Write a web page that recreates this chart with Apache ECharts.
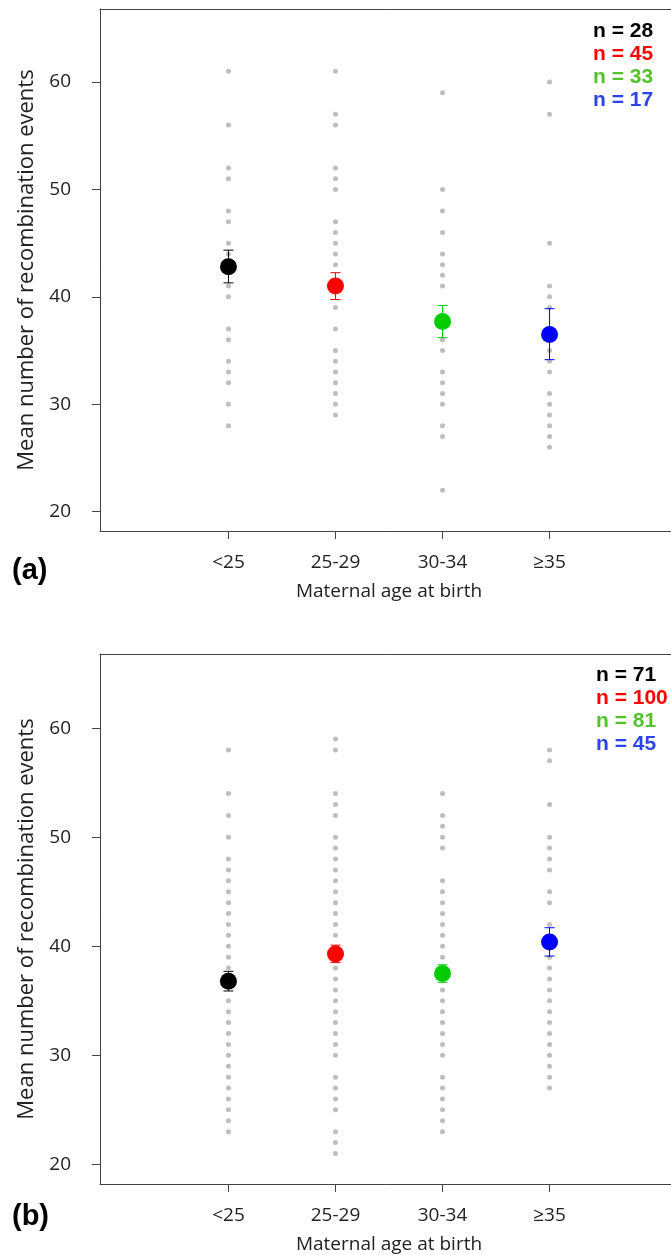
<!DOCTYPE html>
<html>
<head>
<meta charset="utf-8">
<script src="https://cdn.jsdelivr.net/npm/echarts@6/dist/echarts.min.js"></script>
<style>
  html, body { margin: 0; padding: 0; background: #fff; }
  #chart { width: 671px; height: 1255px; }
</style>
</head>
<body>
<div id="chart"></div>
<script>
// Maternal age groups on the x axis (positions 1..4)
const ageGroups = ['<25', '25-29', '30-34', '≥35'];
const groupColors = ['#000000', '#FF0000', '#00CC00', '#0000FF'];
const countColors = ['#000000', '#FF0000', '#55C22D', '#2B45E8'];
const yTicks = [20, 30, 40, 50, 60];

// Panel (a): individual recombination counts, group means and error bars
const countsA = [28, 45, 33, 17];
const individualsA = [
  [61, 56, 52, 51, 48, 47, 45, 44, 41, 40, 37, 36, 34, 33, 32, 30, 28],
  [61, 57, 56, 52, 51, 50, 47, 46, 45, 44, 43, 39, 37, 35, 34, 33, 32, 31, 30, 29],
  [59, 50, 48, 46, 44, 43, 42, 41, 36, 35, 33, 32, 31, 30, 28, 27, 22],
  [60, 57, 45, 41, 40, 39, 35, 34, 33, 31, 30, 29, 28, 27, 26]
];
const meansA = [42.8, 41.0, 37.7, 36.5];
const lowerA = [41.3, 39.75, 36.2, 34.15];
const upperA = [44.35, 42.25, 39.2, 38.9];

// Panel (b)
const countsB = [71, 100, 81, 45];
const individualsB = [
  [58, 54, 52, 50, 48, 47, 46, 45, 44, 43, 42, 41, 40, 39, 38, 35, 34, 33, 32, 31, 30, 29, 28, 27, 26, 25, 24, 23],
  [59, 58, 54, 53, 52, 50, 49, 48, 47, 46, 45, 44, 43, 42, 41, 38, 37, 36, 35, 34, 33, 32, 31, 30, 28, 27, 26, 25, 23, 22, 21],
  [54, 52, 51, 50, 49, 46, 45, 44, 43, 42, 41, 40, 39, 36, 35, 34, 33, 32, 31, 30, 28, 27, 26, 25, 24, 23],
  [58, 57, 53, 50, 49, 48, 47, 45, 44, 42, 39, 38, 37, 36, 35, 34, 33, 32, 31, 30, 29, 28, 27]
];
const meansB = [36.8, 39.3, 37.5, 40.4];
const lowerB = [35.9, 38.5, 36.7, 39.1];
const upperB = [37.7, 40.1, 38.3, 41.7];

const FONT = 'Open Sans';
const AXIS_COLOR = '#444';
const TEXT_COLOR = '#222';
const X_MIN = -0.2, X_MAX = 5.2, Y_MIN = 18.2, Y_MAX = 66.8;

function makeXAxis(gridIndex) {
  return {
    gridIndex: gridIndex,
    type: 'value',
    position: 'bottom',
    min: X_MIN,
    max: X_MAX,
    splitLine: { show: false },
    axisLine: { show: true, onZero: false, lineStyle: { color: AXIS_COLOR, width: 1 } },
    axisTick: { show: true, length: 8, customValues: [1, 2, 3, 4], lineStyle: { color: AXIS_COLOR } },
    axisLabel: {
      customValues: [1, 2, 3, 4],
      formatter: v => ageGroups[Math.round(v) - 1],
      margin: 22, fontSize: 19, color: TEXT_COLOR, fontFamily: FONT
    },
    name: 'Maternal age at birth',
    nameLocation: 'middle',
    nameGap: 51,
    nameTextStyle: { fontSize: 19, color: TEXT_COLOR, fontFamily: FONT }
  };
}

// Top edge of the plot frame
function makeTopAxis(gridIndex) {
  return {
    gridIndex: gridIndex,
    type: 'value',
    position: 'top',
    min: X_MIN,
    max: X_MAX,
    splitLine: { show: false },
    axisLine: { show: true, onZero: false, lineStyle: { color: AXIS_COLOR, width: 1 } },
    axisTick: { show: false },
    axisLabel: { show: false }
  };
}

function makeYAxis(gridIndex) {
  return {
    gridIndex: gridIndex,
    type: 'value',
    position: 'left',
    min: Y_MIN,
    max: Y_MAX,
    splitLine: { show: false },
    axisLine: { show: true, onZero: false, lineStyle: { color: AXIS_COLOR, width: 1 } },
    axisTick: { show: true, length: 8, customValues: yTicks, lineStyle: { color: AXIS_COLOR } },
    axisLabel: {
      customValues: yTicks,
      margin: 29, fontSize: 19, color: TEXT_COLOR, fontFamily: FONT
    },
    name: 'Mean number of recombination events',
    nameLocation: 'middle',
    nameGap: 62,
    nameTextStyle: { fontSize: 22, color: TEXT_COLOR, fontFamily: FONT }
  };
}

function errorBarItem(params, api) {
  const x = api.value(0);
  const lo = api.coord([x, api.value(1)]);
  const hi = api.coord([x, api.value(2)]);
  const color = groupColors[api.value(3)];
  const cap = 5;
  const style = { stroke: color, lineWidth: 1 };
  return {
    type: 'group',
    children: [
      { type: 'line', shape: { x1: lo[0], y1: lo[1], x2: hi[0], y2: hi[1] }, style: style },
      { type: 'line', shape: { x1: lo[0] - cap, y1: lo[1], x2: lo[0] + cap, y2: lo[1] }, style: style },
      { type: 'line', shape: { x1: hi[0] - cap, y1: hi[1], x2: hi[0] + cap, y2: hi[1] }, style: style }
    ]
  };
}

function panelSeries(xIdx, yIdx, individuals, means, lower, upper) {
  const dots = [];
  individuals.forEach((vals, g) => vals.forEach(v => dots.push([g + 1, v])));
  return [
    {
      type: 'scatter', xAxisIndex: xIdx, yAxisIndex: yIdx, z: 2,
      symbol: 'circle', symbolSize: 5, silent: true,
      itemStyle: { color: '#BEBEBE', opacity: 1 },
      data: dots
    },
    {
      type: 'custom', xAxisIndex: xIdx, yAxisIndex: yIdx, z: 3, silent: true,
      renderItem: errorBarItem,
      data: means.map((m, g) => [g + 1, lower[g], upper[g], g])
    },
    {
      type: 'scatter', xAxisIndex: xIdx, yAxisIndex: yIdx, z: 4,
      symbol: 'circle', symbolSize: 17, silent: true,
      data: means.map((m, g) => ({ value: [g + 1, m], itemStyle: { color: groupColors[g], opacity: 1 } }))
    }
  ];
}

function countLabels(counts, left, top, step) {
  return counts.map((n, g) => ({
    type: 'text', left: left, top: top + g * step,
    style: { text: 'n = ' + n, fill: countColors[g], font: 'bold 21px "Liberation Sans", Arial, sans-serif' }
  }));
}

const chart = echarts.init(document.getElementById('chart'), null, { renderer: 'canvas' });

chart.setOption({
  backgroundColor: '#ffffff',
  animation: false,
  grid: [
    { left: 100, top: 9, width: 578, height: 522, outerBoundsMode: 'none', containLabel: false, show: false },
    { left: 100, top: 654, width: 578, height: 530, outerBoundsMode: 'none', containLabel: false, show: false }
  ],
  xAxis: [makeXAxis(0), makeXAxis(1), makeTopAxis(0), makeTopAxis(1)],
  yAxis: [makeYAxis(0), makeYAxis(1)],
  series: [
    ...panelSeries(0, 0, individualsA, meansA, lowerA, upperA),
    ...panelSeries(1, 1, individualsB, meansB, lowerB, upperB)
  ],
  graphic: [
    ...countLabels(countsA, 593, 21, 23),
    ...countLabels(countsB, 596, 665, 23),
    { type: 'text', left: 12, top: 556, style: { text: '(a)', fill: '#000', font: 'bold 29px "Liberation Sans", Arial, sans-serif' } },
    { type: 'text', left: 12, top: 1202, style: { text: '(b)', fill: '#000', font: 'bold 29px "Liberation Sans", Arial, sans-serif' } }
  ]
});
</script>
</body>
</html>
